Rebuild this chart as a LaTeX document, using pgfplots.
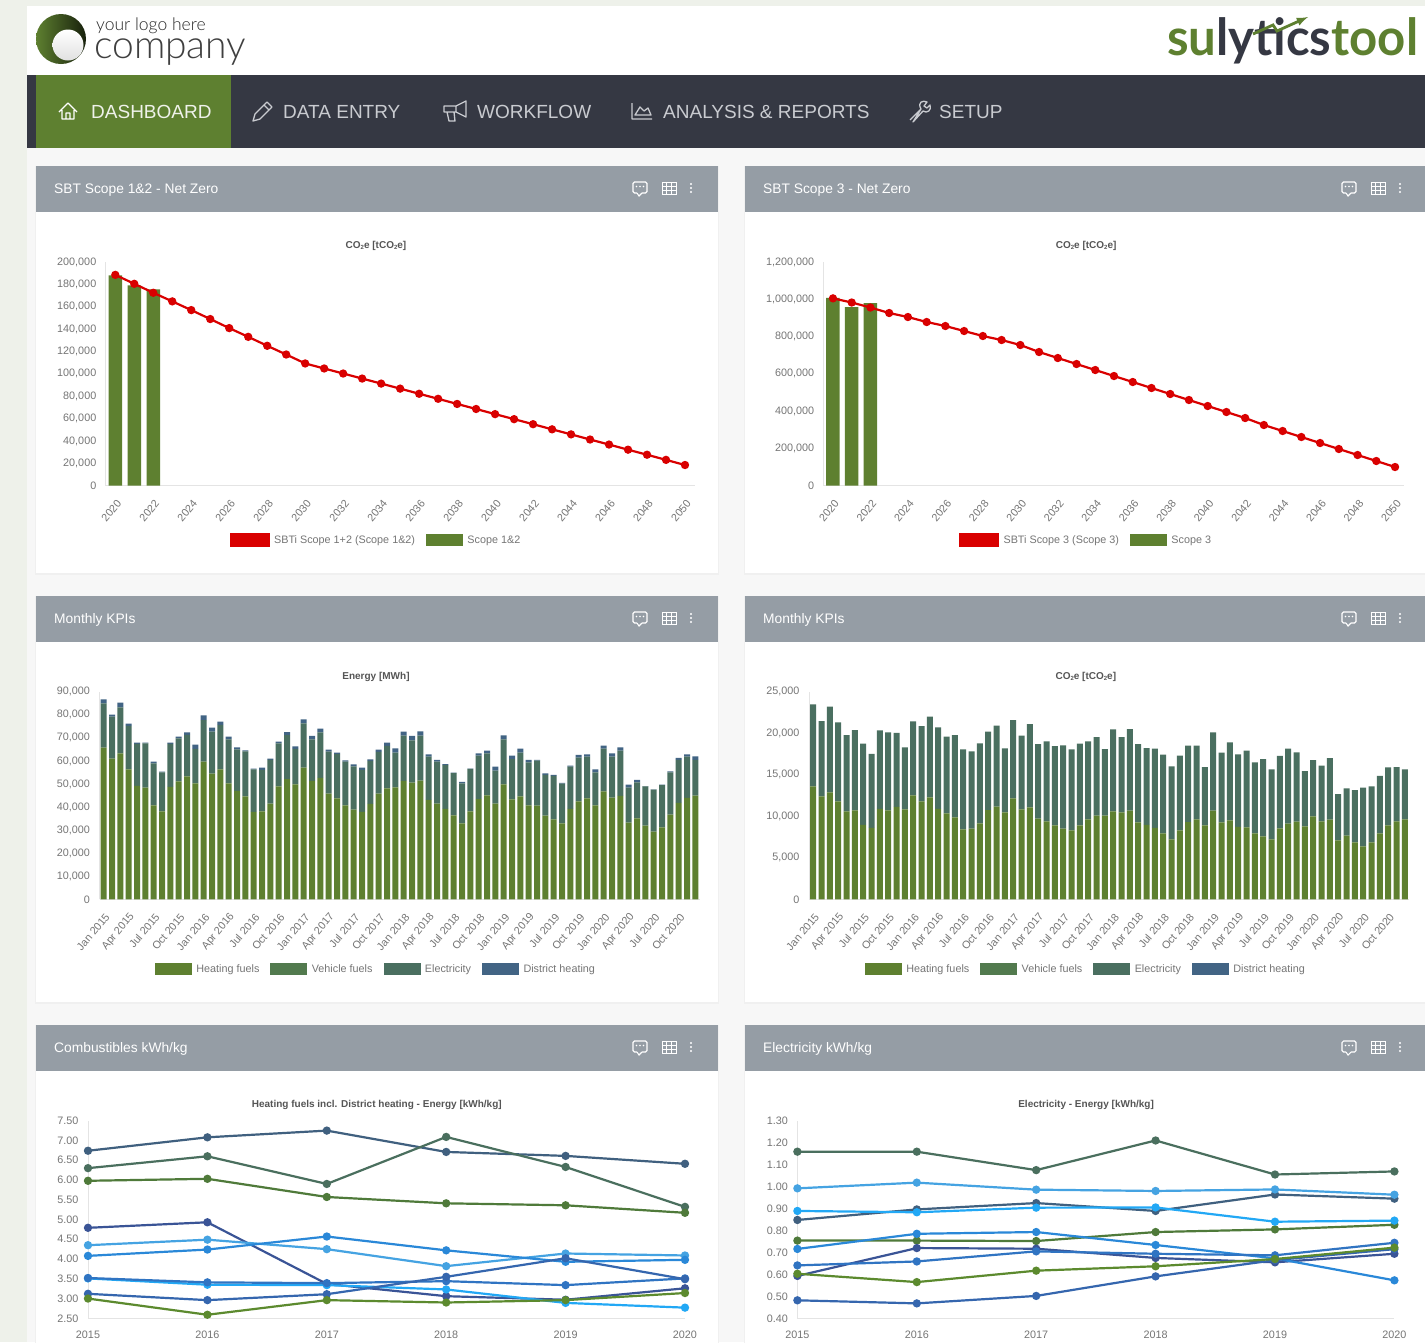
\documentclass[border=0pt]{standalone}
\usepackage{fontspec}
\setmainfont{Liberation Sans}
\newfontfamily\logofont{Lato Light}
\newfontfamily\brandfont{Lato}
\usepackage{pgfplots}
\usepackage{pgfplotstable}
\pgfplotsset{compat=1.18}

\definecolor{bgside}{HTML}{EEF1EA}
\definecolor{bgpage}{HTML}{F7F7F7}
\definecolor{navdark}{HTML}{353843}
\definecolor{navtext}{HTML}{C9CBD0}
\definecolor{hdrgray}{HTML}{959DA5}
\definecolor{brand}{HTML}{5E8030}
\definecolor{tickgray}{HTML}{757575}
\definecolor{titlegray}{HTML}{555555}
\definecolor{axisgray}{HTML}{E4E4E4}
\definecolor{sbtred}{HTML}{D90000}
\definecolor{cHeat}{HTML}{5E8030}
\definecolor{cVeh}{HTML}{527A4E}
\definecolor{cElec}{HTML}{4A6F60}
\definecolor{cDist}{HTML}{426484}
% line colours
\definecolor{sA}{HTML}{40607F}
\definecolor{sB}{HTML}{4A6F5E}
\definecolor{sC}{HTML}{4F7A3A}
\definecolor{sD}{HTML}{3A5496}
\definecolor{sE}{HTML}{45A3E2}
\definecolor{sF}{HTML}{2A88D8}
\definecolor{sG}{HTML}{3074C2}
\definecolor{sH}{HTML}{22A8F5}
\definecolor{sI}{HTML}{3566AE}
\definecolor{sJ}{HTML}{5C8A2E}

% monthly energy [MWh]: i heating vehicle electricity district
\pgfplotstableread{
i h v e d
0 65750 0 19220 1730
1 60980 0 18210 870
2 63290 0 19940 2020
3 56360 0 18790 1010
4 49130 0 18210 580
5 48410 0 19220 290
6 40750 0 18210 720
7 38150 0 16910 290
8 48700 0 18640 580
9 51150 0 18640 720
10 53320 0 17920 1160
11 50290 0 14880 1880
12 59680 0 18060 2020
13 54480 0 18210 1730
14 56360 0 19220 1450
15 50290 0 19070 1160
16 46960 0 18060 870
17 44650 0 19510 430
18 37860 0 18500 290
19 38150 0 17920 1010
20 41470 0 18930 580
21 48990 0 18640 720
22 52160 0 19070 1300
23 49850 0 15320 1160
24 57080 0 19220 1730
25 51300 0 18060 1450
26 52600 0 19800 1590
27 45810 0 18210 870
28 43780 0 19220 580
29 40750 0 18930 580
30 38870 0 18790 870
31 37860 0 18210 1010
32 41330 0 18640 720
33 45810 0 18060 1010
34 48120 0 18350 1450
35 48550 0 15030 1880
36 51300 0 19650 1730
37 50580 0 18350 1880
38 51440 0 19510 1880
39 43060 0 18790 1010
40 41470 0 18210 720
41 39160 0 19070 430
42 36410 0 18350 140
43 32950 0 17340 580
44 38150 0 18350 140
45 43490 0 18790 1010
46 45080 0 18210 1160
47 41470 0 14310 1730
48 49850 0 19510 1730
49 43350 0 17480 1450
50 44650 0 18930 1730
51 40750 0 18640 1010
52 40600 0 19510 290
53 36270 0 17630 720
54 34680 0 18790 430
55 32950 0 17200 290
56 39160 0 18350 430
57 42480 0 18930 1160
58 43780 0 18060 1010
59 40750 0 14310 1300
60 46820 0 18500 1300
61 44070 0 17770 1450
62 44800 0 19650 1450
63 33240 0 15170 1300
64 35110 0 15610 1010
65 31930 0 17050 140
66 29330 0 18210 140
67 31210 0 18350 140
68 36700 0 18350 430
69 41760 0 18640 870
70 43930 0 17920 1010
71 44940 0 15460 1590
}\energytable

% monthly CO2e [tCO2e]
\pgfplotstableread{
i h v e d
0 13600 0 9870 0
1 12400 0 9070 0
2 12880 0 10310 0
3 11800 0 9510 0
4 10590 0 9190 0
5 10710 0 9670 0
6 8950 0 9790 0
7 8590 0 8910 0
8 10880 0 9470 0
9 10710 0 9390 0
10 11120 0 8910 0
11 10840 0 7460 0
12 12520 0 8910 0
13 11800 0 9070 0
14 12280 0 9710 0
15 10880 0 9830 0
16 10350 0 9230 0
17 9870 0 9910 0
18 8430 0 9630 0
19 8510 0 9310 0
20 9150 0 9630 0
21 10750 0 9430 0
22 11160 0 9750 0
23 10470 0 7700 0
24 12160 0 9430 0
25 10840 0 8870 0
26 11080 0 10030 0
27 9710 0 8990 0
28 9390 0 9630 0
29 8910 0 9550 0
30 8510 0 10030 0
31 8310 0 9750 0
32 8910 0 9830 0
33 9630 0 9390 0
34 10070 0 9470 0
35 10070 0 8030 0
36 10590 0 9870 0
37 10470 0 9070 0
38 10670 0 9830 0
39 9270 0 9430 0
40 8950 0 9270 0
41 8590 0 9550 0
42 7950 0 9470 0
43 7220 0 8790 0
44 8310 0 8990 0
45 9310 0 9190 0
46 9630 0 8870 0
47 8910 0 7020 0
48 10670 0 9430 0
49 9270 0 8390 0
50 9510 0 9390 0
51 8710 0 8750 0
52 8670 0 9230 0
53 7950 0 8550 0
54 7580 0 9310 0
55 7220 0 8430 0
56 8550 0 8710 0
57 9110 0 9030 0
58 9350 0 8350 0
59 8790 0 6660 0
60 9990 0 6780 0
61 9390 0 6700 0
62 9590 0 7420 0
63 7100 0 5580 0
64 7660 0 5700 0
65 6860 0 6300 0
66 6380 0 7060 0
67 6860 0 6740 0
68 7950 0 6900 0
69 8910 0 6980 0
70 9390 0 6540 0
71 9630 0 6020 0
}\cotable

\pgfplotsset{
  dash/.style={
    scale only axis, anchor=south west, clip=false,
    axis x line*=bottom, axis y line*=left,
    axis line style={draw=axisgray,line width=.8pt,-},
    major tick length=0pt, tick style={draw=none},
    scaled x ticks=false, scaled y ticks=false,
    tick label style={font=\fontsize{10.8}{12}\selectfont,text=tickgray},
    /pgf/number format/fixed,
    /pgf/number format/assume math mode=true,
    title style={font=\fontsize{10}{12}\selectfont\bfseries,text=titlegray},
    legend style={draw=none,fill=none,anchor=center,legend columns=-1,
      font=\fontsize{10.8}{12}\selectfont,text=tickgray,
      inner sep=0pt,
      /tikz/every odd column/.append style={column sep=3pt},
      /tikz/every even column/.append style={column sep=9pt}},
    legend cell align=left,
    yticklabel shift=6pt,
  },
  thousands/.style={yticklabel style={/pgf/number format/1000 sep={,}}},
  rotyears/.style={xticklabel style={xshift=6pt,yshift=-13pt,rotate=50,anchor=east,
      /pgf/number format/1000 sep={}}},
  monthaxis/.style={dash,thousands,width=600pt,height=207.6pt,ymin=0,
    xmin=-0.5,xmax=71.5,ybar stacked,bar width=6pt,
    xtick={0,3,...,69},
    xticklabels={Jan 2015,Apr 2015,Jul 2015,Oct 2015,Jan 2016,Apr 2016,Jul 2016,Oct 2016,
      Jan 2017,Apr 2017,Jul 2017,Oct 2017,Jan 2018,Apr 2018,Jul 2018,Oct 2018,
      Jan 2019,Apr 2019,Jul 2019,Oct 2019,Jan 2020,Apr 2020,Jul 2020,Oct 2020},
    xticklabel style={xshift=6pt,yshift=-13pt,rotate=50,anchor=east}},
  lineaxis/.style={dash,width=597pt,height=197.6pt,xmin=2015,xmax=2020,
    xtick={2015,2016,2017,2018,2019,2020},
    xticklabel style={yshift=-9pt,/pgf/number format/1000 sep={}},
    yticklabel style={/pgf/number format/fixed,/pgf/number format/fixed zerofill,
      /pgf/number format/precision=2}},
  swatch/.style={legend image code/.code={\fill[#1] (0pt,-5.5pt) rectangle (36pt,5.5pt);}},
  bigswatch/.style={legend image code/.code={\fill[#1] (0pt,-6.5pt) rectangle (39pt,6.5pt);}},
  ser/.style={color=#1,line width=2.2pt,mark=*,mark size=3pt,mark options={fill=#1,draw=#1,solid}},
}

\newcommand{\panel}[5]{% x0 x1 y0 y1 title
  \fill[black!6] (#1-1,#3) rectangle (#2+1,#4+2);
  \fill[white] (#1,#3) rectangle (#2,#4);
  \fill[hdrgray] (#1,#3) rectangle (#2,#3+46);
  \node[anchor=west,text=white,inner sep=0pt,font=\fontsize{13.8}{16}\selectfont] at (#1+18,#3+24) {#5};
  % chat, grid, dots
  \begin{scope}[shift={(#1+604,#3+22)},draw=white,line width=1.1pt]
    \draw[rounded corners=1.5pt] (-7,-6) rectangle (7,5);
    \fill[hdrgray] (-3,4) rectangle (2,7);
    \draw (-3,5) -- (-1,8) -- (2,5);
    \fill[white] (-3.5,-1.5) circle (.8) (0,-1.5) circle (.8) (3.5,-1.5) circle (.8);
  \end{scope}
  \begin{scope}[shift={(#1+633,#3+22)},draw=white,line width=.9pt]
    \draw (-7,-6) rectangle (7,6);
    \draw (-7,-2) -- (7,-2) (-7,2) -- (7,2) (-2.3,-6) -- (-2.3,6) (2.3,-6) -- (2.3,6);
  \end{scope}
  \fill[white] (#1+655,#3+18) circle (1.1) (#1+655,#3+22) circle (1.1) (#1+655,#3+26) circle (1.1);
}
\newcommand{\navitem}[2]{\node[anchor=west,inner sep=0pt,text=navtext,font=\fontsize{19}{22}\selectfont] at (#1,112) {#2};}
\newcommand{\cotwo}{CO\raisebox{-1pt}{\fontsize{6}{6}\selectfont 2}e}

\begin{document}
\begin{tikzpicture}
\useasboundingbox (0pt,0pt) rectangle (1425pt,-1342pt);
\clip (0pt,0pt) rectangle (1425pt,-1342pt);

\begin{scope}[x=1pt,y=-1pt]
  \fill[bgside] (0,0) rectangle (1425,1342);
  \fill[bgpage] (27,6) rectangle (1425,1342);
  \fill[white] (27,6) rectangle (1425,75);
  \fill[navdark] (27,75) rectangle (1425,148);
  \fill[brand] (36,75) rectangle (231,148);

  % logo
  \shade[left color=brand,right color=black!75!brand] (61,39) circle (25);
  \shade[top color=white,bottom color=black!12] (68,45) circle (15.5);
  \node[anchor=west,inner sep=0pt,text=black!85,font=\logofont\fontsize{17.5}{18}\selectfont] at (96,26) {your logo here};
  \node[anchor=base west,inner sep=0pt,text=black!75,font=\logofont\fontsize{39}{40}\selectfont] at (94,58) {company};

  % brand mark
  \node[anchor=base west,inner sep=0pt,font=\brandfont\bfseries\fontsize{51}{52}\selectfont] at (1167,55)
    {\resizebox{251pt}{\height}{\textcolor{brand}{su}\textcolor{navdark}{lytics}\textcolor{brand}{tool}}};
  \draw[brand,line width=2.8pt,-latex,line join=miter] (1253,34) -- (1273,25) -- (1277,31) -- (1308,17);

  % nav
  \node[anchor=west,inner sep=0pt,text=white!90!brand,font=\fontsize{19}{22}\selectfont] at (91,112) {DASHBOARD};
  \navitem{283}{DATA ENTRY}
  \navitem{477}{WORKFLOW}
  \navitem{663}{ANALYSIS \& REPORTS}
  \navitem{939}{SETUP}
  % nav icons
  \begin{scope}[draw=white,line width=1.3pt,line join=round]
    \draw (59,112) -- (68,103) -- (77,112) (62,110) -- (62,119) -- (74,119) -- (74,110) (66,119) -- (66,113) -- (70,113) -- (70,119);
  \end{scope}
  \begin{scope}[draw=navtext,line width=1.3pt,line join=round]
    \draw (253,121) -- (255,114) -- (267,102) -- (272,107) -- (260,119) -- cycle (264,105) -- (269,110);
    \draw (444,106) -- (456,106) -- (466,101) -- (466,117) -- (456,112) -- (444,112) -- cycle (447,112) -- (449,121) -- (455,121) -- (454,112) (456,106) -- (456,112);
    \draw (632,103) -- (632,119) -- (652,119) (635,115) -- (640,107) -- (644,111) -- (648,108) -- (651,115) -- cycle;
    \draw (910,120) -- (921,109) (921,109) .. controls (917,102) and (923,100) .. (927,102) -- (924,106) -- (927,108) -- (930,105) .. controls (932,110) and (927,114) .. (923,111) -- (913,122) -- cycle;
  \end{scope}

  \panel{36}{718}{166}{573}{SBT Scope 1\&2 - Net Zero}
  \panel{745}{1427}{166}{573}{SBT Scope 3 - Net Zero}
  \panel{36}{718}{596}{1002}{Monthly KPIs}
  \panel{745}{1427}{596}{1002}{Monthly KPIs}
  \panel{36}{718}{1025}{1350}{Combustibles kWh/kg}
  \panel{745}{1427}{1025}{1350}{Electricity kWh/kg}
\end{scope}

% ---- SBT scope 1&2
\begin{axis}[dash,thousands,rotyears,at={(105.8pt,-485.7pt)},width=588.7pt,height=223.7pt,
  xmin=2019.5,xmax=2050.5,ymin=0,ymax=200000,
  xtick={2020,2022,...,2050},ytick={0,20000,...,200000},
  title={\cotwo{} [t\cotwo{}]},title style={at={(0.459,1.009)}},
  legend style={at={(0.459,-0.243)}}]
\addlegendimage{bigswatch=sbtred}\addlegendentry{SBTi Scope 1+2 (Scope 1\&2)}
\addlegendimage{swatch=cHeat}\addlegendentry{Scope 1\&2}
\addplot[ybar,bar width=13.5pt,fill=cHeat,draw=none,forget plot] coordinates {(2020,188000)(2021,179000)(2022,175500)};
\addplot[color=sbtred,line width=2.2pt,mark=*,mark size=3pt,forget plot] coordinates {
(2020,188500)(2021,180500)(2022,172500)(2023,164800)(2024,157000)(2025,149000)(2026,140900)
(2027,133100)(2028,125100)(2029,117300)(2030,109300)(2031,104800)(2032,100300)(2033,95800)
(2034,91300)(2035,86800)(2036,82200)(2037,77700)(2038,73100)(2039,68600)(2040,64000)
(2041,59500)(2042,55000)(2043,50400)(2044,45900)(2045,41300)(2046,36800)(2047,32200)
(2048,27700)(2049,23100)(2050,18500)};
\end{axis}

% ---- SBT scope 3
\begin{axis}[dash,thousands,rotyears,at={(823.6pt,-485.7pt)},width=580.8pt,height=223.7pt,
  xmin=2019.5,xmax=2050.5,ymin=0,ymax=1200000,
  xtick={2020,2022,...,2050},ytick={0,200000,...,1200000},
  title={\cotwo{} [t\cotwo{}]},title style={at={(0.452,1.009)}},
  legend style={at={(0.452,-0.243)}}]
\addlegendimage{bigswatch=sbtred}\addlegendentry{SBTi Scope 3 (Scope 3)}
\addlegendimage{swatch=cHeat}\addlegendentry{Scope 3}
\addplot[ybar,bar width=13.5pt,fill=cHeat,draw=none,forget plot] coordinates {(2020,1007000)(2021,958000)(2022,980000)};
\addplot[color=sbtred,line width=2.2pt,mark=*,mark size=3pt,forget plot] coordinates {
(2020,1005000)(2021,982700)(2022,955900)(2023,926400)(2024,904900)(2025,878100)(2026,856600)
(2027,829800)(2028,803000)(2029,781500)(2030,754700)(2031,717200)(2032,685000)(2033,652800)
(2034,620600)(2035,588400)(2036,556200)(2037,524100)(2038,491900)(2039,459700)(2040,427500)
(2041,395300)(2042,363100)(2043,325600)(2044,293400)(2045,261200)(2046,229000)(2047,196900)
(2048,164700)(2049,132500)(2050,100300)};
\end{axis}

% ---- energy
\begin{axis}[monthaxis,at={(99.5pt,-899.3pt)},ymax=90000,ytick={0,10000,...,90000},
  title={Energy [MWh]},title style={at={(0.4608,1.005)}},
  legend style={at={(0.4608,-0.336)}}]
\addlegendimage{swatch=cHeat}\addlegendentry{Heating fuels}
\addlegendimage{swatch=cVeh}\addlegendentry{Vehicle fuels}
\addlegendimage{swatch=cElec}\addlegendentry{Electricity}
\addlegendimage{swatch=cDist}\addlegendentry{District heating}
\addplot[fill=cHeat,draw=none,forget plot] table[x=i,y=h] {\energytable};
\addplot[fill=cVeh,draw=none,forget plot] table[x=i,y=v] {\energytable};
\addplot[fill=cElec,draw=none,forget plot] table[x=i,y=e] {\energytable};
\addplot[fill=cDist,draw=none,forget plot] table[x=i,y=d] {\energytable};
\end{axis}

% ---- CO2e
\begin{axis}[monthaxis,at={(809pt,-899.3pt)},ymax=25000,ytick={0,5000,...,25000},
  title={\cotwo{} [t\cotwo{}]},title style={at={(0.4614,1.005)}},
  legend style={at={(0.4614,-0.336)}}]
\addlegendimage{swatch=cHeat}\addlegendentry{Heating fuels}
\addlegendimage{swatch=cVeh}\addlegendentry{Vehicle fuels}
\addlegendimage{swatch=cElec}\addlegendentry{Electricity}
\addlegendimage{swatch=cDist}\addlegendentry{District heating}
\addplot[fill=cHeat,draw=none,forget plot] table[x=i,y=h] {\cotable};
\addplot[fill=cVeh,draw=none,forget plot] table[x=i,y=v] {\cotable};
\addplot[fill=cElec,draw=none,forget plot] table[x=i,y=e] {\cotable};
\addplot[fill=cDist,draw=none,forget plot] table[x=i,y=d] {\cotable};
\end{axis}

% ---- heating fuels kWh/kg
\begin{axis}[lineaxis,at={(88pt,-1318.3pt)},ymin=2.5,ymax=7.5,
  ytick={2.5,3,3.5,4,4.5,5,5.5,6,6.5,7,7.5},
  title={Heating fuels incl. District heating - Energy [kWh/kg]},title style={at={(0.4838,1.0075)}}]
\addplot[ser=sA] coordinates {(2015,6.74)(2016,7.08)(2017,7.25)(2018,6.71)(2019,6.61)(2020,6.41)};
\addplot[ser=sB] coordinates {(2015,6.30)(2016,6.60)(2017,5.90)(2018,7.09)(2019,6.33)(2020,5.32)};
\addplot[ser=sC] coordinates {(2015,5.98)(2016,6.03)(2017,5.57)(2018,5.41)(2019,5.36)(2020,5.17)};
\addplot[ser=sD] coordinates {(2015,4.79)(2016,4.93)(2017,3.37)(2018,3.06)(2019,2.97)(2020,3.26)};
\addplot[ser=sE] coordinates {(2015,4.35)(2016,4.49)(2017,4.25)(2018,3.82)(2019,4.14)(2020,4.09)};
\addplot[ser=sF] coordinates {(2015,4.08)(2016,4.24)(2017,4.57)(2018,4.22)(2019,3.93)(2020,3.98)};
\addplot[ser=sH] coordinates {(2015,3.51)(2016,3.35)(2017,3.34)(2018,3.23)(2019,2.89)(2020,2.77)};
\addplot[ser=sG] coordinates {(2015,3.52)(2016,3.41)(2017,3.39)(2018,3.44)(2019,3.34)(2020,3.51)};
\addplot[ser=sI] coordinates {(2015,3.12)(2016,2.96)(2017,3.11)(2018,3.55)(2019,4.02)(2020,3.49)};
\addplot[ser=sJ] coordinates {(2015,3.00)(2016,2.59)(2017,2.96)(2018,2.90)(2019,2.96)(2020,3.14)};
\end{axis}

% ---- electricity kWh/kg
\begin{axis}[lineaxis,at={(797.4pt,-1318.3pt)},ymin=0.4,ymax=1.3,
  ytick={0.4,0.5,0.6,0.7,0.8,0.9,1.0,1.1,1.2,1.3},
  title={Electricity - Energy [kWh/kg]},title style={at={(0.4836,1.0075)}}]
\addplot[ser=sA] coordinates {(2015,0.848)(2016,0.896)(2017,0.925)(2018,0.889)(2019,0.964)(2020,0.945)};
\addplot[ser=sB] coordinates {(2015,1.159)(2016,1.159)(2017,1.075)(2018,1.21)(2019,1.055)(2020,1.069)};
\addplot[ser=sC] coordinates {(2015,0.754)(2016,0.754)(2017,0.752)(2018,0.793)(2019,0.805)(2020,0.826)};
\addplot[ser=sD] coordinates {(2015,0.593)(2016,0.72)(2017,0.717)(2018,0.675)(2019,0.655)(2020,0.694)};
\addplot[ser=sE] coordinates {(2015,0.992)(2016,1.018)(2017,0.986)(2018,0.98)(2019,0.987)(2020,0.963)};
\addplot[ser=sF] coordinates {(2015,0.716)(2016,0.785)(2017,0.793)(2018,0.734)(2019,0.673)(2020,0.573)};
\addplot[ser=sH] coordinates {(2015,0.889)(2016,0.883)(2017,0.904)(2018,0.905)(2019,0.84)(2020,0.845)};
\addplot[ser=sG] coordinates {(2015,0.641)(2016,0.659)(2017,0.705)(2018,0.694)(2019,0.687)(2020,0.744)};
\addplot[ser=sI] coordinates {(2015,0.482)(2016,0.468)(2017,0.502)(2018,0.591)(2019,0.665)(2020,0.715)};
\addplot[ser=sJ] coordinates {(2015,0.603)(2016,0.565)(2017,0.617)(2018,0.637)(2019,0.67)(2020,0.722)};
\end{axis}
\end{tikzpicture}
\end{document}
